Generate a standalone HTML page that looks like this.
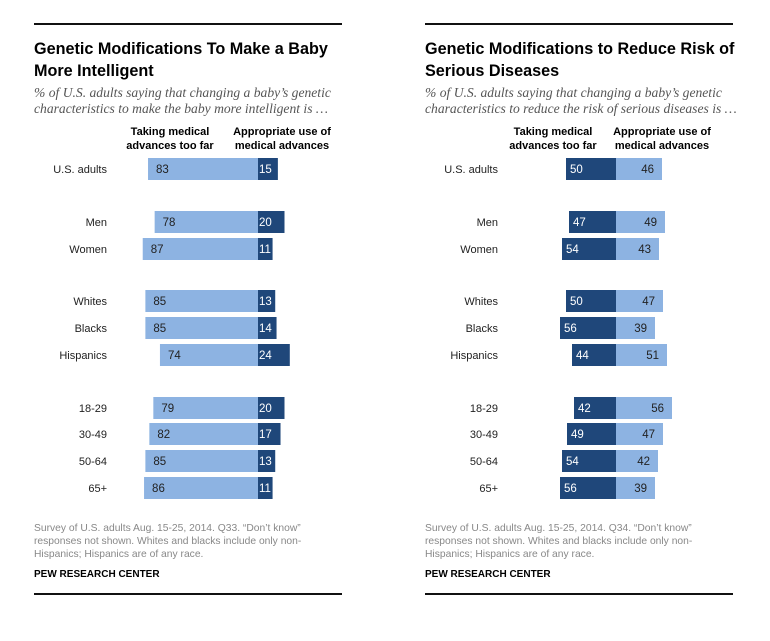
<!DOCTYPE html>
<html><head><meta charset="utf-8"><style>
body{margin:0;background:#fff;width:770px;height:641px;overflow:hidden}
svg{display:block}
text{font-family:"Liberation Sans",sans-serif}
.t{font-size:16.2px;font-weight:bold;fill:#000}
.s{font-family:"Liberation Serif",serif;font-style:italic;font-size:13.6px;fill:#555}
.h{font-size:11px;font-weight:bold;fill:#000}
.r{font-size:11px;fill:#222}
.v{font-size:11.5px}
.f{font-size:10.3px;fill:#888}
.p{font-size:10px;font-weight:bold;fill:#000}
</style></head><body>
<svg id="c" width="770" height="641"></svg>
<script>
const groups = ["U.S. adults","Men","Women","Whites","Blacks","Hispanics","18-29","30-49","50-64","65+"];
const intelTooFar = [83,78,87,85,85,74,79,82,85,86];
const intelAppropriate = [15,20,11,13,14,24,20,17,13,11];
const diseaseTooFar = [50,47,54,50,56,44,42,49,54,56];
const diseaseAppropriate = [46,49,43,47,39,51,56,47,42,39];
const rowY = [169,222,249,301,328,355,408,434,461,488];
const LIGHT="#8db3e2", DARK="#1f477a";
const svg=document.getElementById('c');
const NS="http://www.w3.org/2000/svg";
function mk(tag,attrs,txt,parent){const e=document.createElementNS(NS,tag);for(const k in attrs)e.setAttribute(k,attrs[k]);if(txt!==undefined)e.textContent=txt;(parent||svg).appendChild(e);return e;}
function panel(opts){
  const g=mk('g',{});
  
  
  const x0=opts.x0;
  let l=mk('rect',{x:x0,y:23,width:308,height:2,fill:'#111'},undefined,g);
  
  opts.title.forEach((t,i)=>{const e=mk('text',{x:x0,y:54+i*22,class:'t'},t,g);});
  opts.sub.forEach((t,i)=>{const e=mk('text',{x:x0,y:97+i*16,class:'s'},t,g);});
  [["Taking medical","advances too far",opts.h1],["Appropriate  use of","medical advances",opts.h2]].forEach(h=>{
    h.slice(0,2).forEach((t,i)=>{const e=mk('text',{x:h[2],y:135+i*14,class:'h','text-anchor':'middle'},t,g);});
  });
  const sc=opts.scale, mid=opts.mid;
  groups.forEach((gname,i)=>{
    const y=rowY[i], a=opts.tooFar[i], b=opts.appr[i];
    const lab=mk('text',{x:opts.labX,y:y+4,class:'r','text-anchor':'end'},gname,g);
    
    const r1=mk('rect',{x:mid-a*sc,y:y-11,width:a*sc,height:22,fill:opts.c1},undefined,g);
    
    const r2=mk('rect',{x:mid,y:y-11,width:b*sc,height:22,fill:opts.c2},undefined,g);
    
    const t1=mk('text',{x:mid-a*sc+opts.pad1,y:y+4,class:'v',fill:opts.t1},a,g);
    
    let t2;
    if(opts.rightAlign2) t2=mk('text',{x:mid+b*sc-8,y:y+4,class:'v',fill:opts.t2,'text-anchor':'end'},b,g);
    else t2=mk('text',{x:mid+1,y:y+4,class:'v',fill:opts.t2},b,g);
    
  });
  opts.foot.forEach((t,i)=>{const e=mk('text',{x:x0,y:531+i*13,class:'f'},t,g);});
  const p=mk('text',{x:x0,y:577,class:'p'},"PEW RESEARCH CENTER",g);
  l=mk('rect',{x:x0,y:593,width:308,height:2,fill:'#111'},undefined,g);
  
}
panel({name:'intelligence-panel',x0:34,title:["Genetic Modifications To Make a Baby","More Intelligent"],
 sub:["% of U.S. adults saying that changing a baby\u2019s genetic","characteristics to make the baby more intelligent is \u2026"],
 h1:170,h2:282,labX:107,mid:258,scale:1.325,tooFar:intelTooFar,appr:intelAppropriate,c1:LIGHT,c2:DARK,t1:'#222',t2:'#fff',pad1:8,rightAlign2:false,
 foot:["Survey of U.S. adults Aug. 15-25, 2014. Q33. \u201cDon\u2019t know\u201d","responses not shown. Whites and blacks include only non-","Hispanics; Hispanics are of any race."]});
panel({name:'disease-panel',x0:425,title:["Genetic Modifications to Reduce Risk of","Serious Diseases"],
 sub:["% of U.S. adults saying that changing a baby\u2019s genetic","characteristics to reduce the risk of serious diseases is \u2026"],
 h1:553,h2:662,labX:498,mid:616,scale:1.0,tooFar:diseaseTooFar,appr:diseaseAppropriate,c1:DARK,c2:LIGHT,t1:'#fff',t2:'#222',pad1:4,rightAlign2:true,
 foot:["Survey of U.S. adults Aug. 15-25, 2014. Q34. \u201cDon\u2019t know\u201d","responses not shown. Whites and blacks include only non-","Hispanics; Hispanics are of any race."]});
</script>
</body></html>
